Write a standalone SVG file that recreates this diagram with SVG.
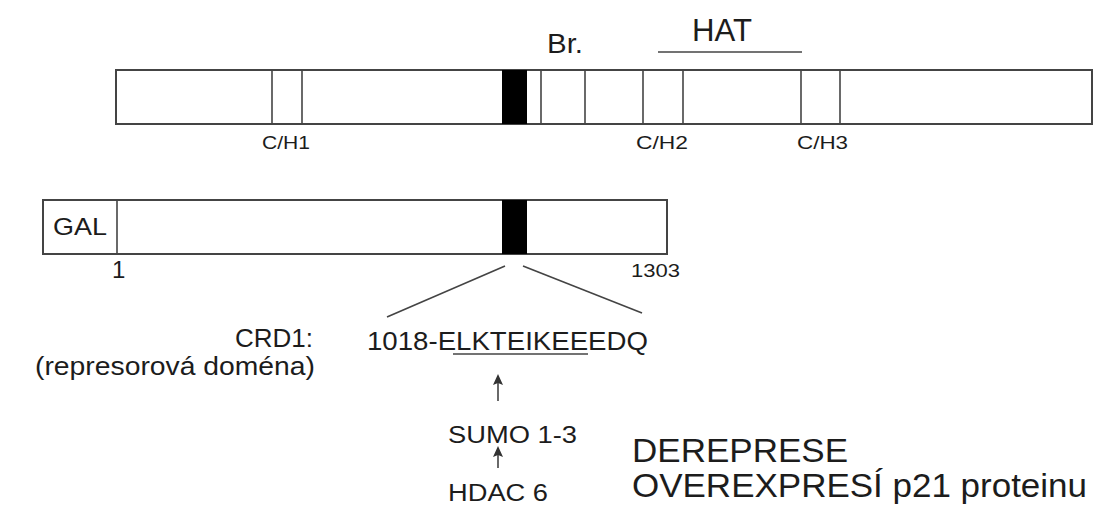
<svg xmlns="http://www.w3.org/2000/svg" width="1097" height="508" viewBox="0 0 1097 508">
  <style>
    .t { font-family: "Liberation Sans", Arial, sans-serif; fill: #1c1c1c; }
    .box { fill: #fff; stroke: #444; stroke-width: 2; }
    .div { stroke: #444; stroke-width: 1.6; }
    .blk { fill: #000; }
    .ln { stroke: #444; stroke-width: 1.6; fill: none; }
  </style>
  <defs>
    <marker id="ah" markerWidth="12" markerHeight="12" refX="9" refY="5" orient="auto" markerUnits="userSpaceOnUse">
      <path d="M0,0 L11,5 L0,10 L2,5 Z" fill="#333"/>
    </marker>
  </defs>
  <rect width="1097" height="508" fill="#fff"/>

  <g id="protein-full">
    <rect class="box" x="116" y="70" width="976" height="54"/>
    <line class="div" x1="272" y1="70" x2="272" y2="124"/>
    <line class="div" x1="302" y1="70" x2="302" y2="124"/>
    <rect class="blk" x="502" y="70" width="25" height="54"/>
    <line class="div" x1="541" y1="70" x2="541" y2="124"/>
    <line class="div" x1="585" y1="70" x2="585" y2="124"/>
    <line class="div" x1="643" y1="70" x2="643" y2="124"/>
    <line class="div" x1="683" y1="70" x2="683" y2="124"/>
    <line class="div" x1="801" y1="70" x2="801" y2="124"/>
    <line class="div" x1="840" y1="70" x2="840" y2="124"/>
    <text class="t" x="262" y="149" font-size="18" textLength="48" lengthAdjust="spacingAndGlyphs">C/H1</text>
    <text class="t" x="636" y="149" font-size="18" textLength="52" lengthAdjust="spacingAndGlyphs">C/H2</text>
    <text class="t" x="797" y="149" font-size="18" textLength="51" lengthAdjust="spacingAndGlyphs">C/H3</text>
  </g>

  <g id="br-label">
    <text class="t" x="547" y="53" font-size="27" textLength="36" lengthAdjust="spacingAndGlyphs">Br.</text>
  </g>

  <g id="hat-label">
    <text class="t" x="692" y="41" font-size="31" textLength="60" lengthAdjust="spacingAndGlyphs">HAT</text>
    <line class="ln" x1="658" y1="52" x2="802" y2="52" stroke-width="2"/>
  </g>

  <g id="gal-fusion">
    <rect class="box" x="43" y="200" width="624" height="54"/>
    <line class="div" x1="117" y1="200" x2="117" y2="254"/>
    <rect class="blk" x="502" y="200" width="25" height="54"/>
    <text class="t" x="53" y="235" font-size="24" textLength="54" lengthAdjust="spacingAndGlyphs">GAL</text>
    <text class="t" x="112" y="278" font-size="24">1</text>
    <text class="t" x="631" y="277" font-size="19" textLength="49" lengthAdjust="spacingAndGlyphs">1303</text>
  </g>

  <g id="crd1-label">
    <text class="t" x="313" y="347" font-size="26" text-anchor="end">CRD1:</text>
    <text class="t" x="35" y="375" font-size="26" textLength="280" lengthAdjust="spacingAndGlyphs">(represorová doména)</text>
  </g>

  <g id="sequence">
    <text class="t" x="367" y="350" font-size="26" textLength="281" lengthAdjust="spacingAndGlyphs">1018-ELKTEIKEEEDQ</text>
    <line class="ln" x1="453" y1="354" x2="588" y2="354"/>
  </g>

  <g id="sumo">
    <text class="t" x="448" y="443" font-size="23" textLength="129" lengthAdjust="spacingAndGlyphs">SUMO 1-3</text>
  </g>

  <g id="hdac6">
    <text class="t" x="448" y="501" font-size="23" textLength="100" lengthAdjust="spacingAndGlyphs">HDAC 6</text>
  </g>

  <g id="outcome">
    <text class="t" x="632" y="462" font-size="34" textLength="216" lengthAdjust="spacingAndGlyphs">DEREPRESE</text>
    <text class="t" x="632" y="497" font-size="34" textLength="455" lengthAdjust="spacingAndGlyphs">OVEREXPRESÍ p21 proteinu</text>
  </g>

  <g id="connectors">
    <line class="ln" x1="505" y1="266" x2="387" y2="317"/>
    <line class="ln" x1="523" y1="266" x2="642" y2="313"/>
    <line class="ln" x1="498" y1="401" x2="498" y2="376" stroke-width="2.4" marker-end="url(#ah)"/>
    <line class="ln" x1="498" y1="468" x2="498" y2="448" stroke-width="2.4" marker-end="url(#ah)"/>
  </g>
</svg>
